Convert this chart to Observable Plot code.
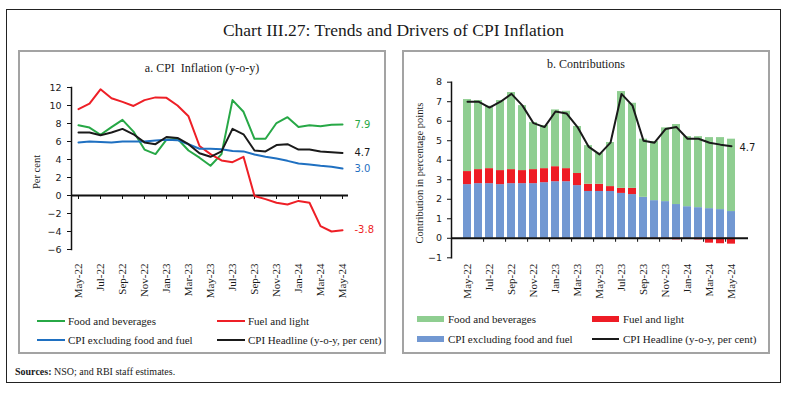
<!DOCTYPE html>
<html><head><meta charset="utf-8">
<script src="https://cdn.jsdelivr.net/npm/d3@7"></script>
<script src="https://cdn.jsdelivr.net/npm/@observablehq/plot@0.6"></script>
<style>
*{box-sizing:border-box;}
body{margin:0;background:#fff;width:793px;height:393px;position:relative;overflow:hidden;font-family:"Liberation Serif",serif;color:#1a1a1a;}
.abs{position:absolute;}
#frame{left:6px;top:9px;width:775px;height:374px;border:1.5px solid #222;}
.panel{top:50px;height:304px;border:2px solid #a3a3a3;}
#title{left:6px;width:775px;top:19px;text-align:center;font-size:17.5px;line-height:22px;}
.ptitle{font-size:12px;line-height:14px;text-align:center;white-space:nowrap;}
.ytitle{font-size:10.5px;line-height:12px;white-space:nowrap;transform:translate(-50%,-50%) rotate(-90deg);}
.leg{font-size:11px;line-height:14px;white-space:nowrap;}
.sw{height:2px;}
.patch{height:6px;}
#src{left:15px;top:365px;font-size:10px;line-height:14px;white-space:nowrap;}
</style></head><body>
<div id="root"></div>
<script>
// ---- data ----
const months = ["May-22","Jun-22","Jul-22","Aug-22","Sep-22","Oct-22","Nov-22","Dec-22","Jan-23","Feb-23","Mar-23","Apr-23","May-23","Jun-23","Jul-23","Aug-23","Sep-23","Oct-23","Nov-23","Dec-23","Jan-24","Feb-24","Mar-24","Apr-24","May-24"];
const tickMonths = ["May-22","Jul-22","Sep-22","Nov-22","Jan-23","Mar-23","May-23","Jul-23","Sep-23","Nov-23","Jan-24","Mar-24","May-24"];
const seriesNames = ["Food and beverages","Fuel and light","CPI excluding food and fuel","CPI Headline (y-o-y, per cent)"];
const foodInfl = [7.8,7.55,6.75,7.6,8.4,7.1,5.1,4.6,6.2,6.3,5.0,4.2,3.3,4.6,10.6,9.3,6.3,6.3,8.05,8.7,7.6,7.8,7.7,7.85,7.9];
const fuelInfl = [9.6,10.2,11.8,10.8,10.4,9.95,10.6,10.9,10.85,10.0,8.8,5.5,4.6,3.9,3.7,4.3,-0.05,-0.4,-0.8,-1.0,-0.6,-0.8,-3.4,-4.0,-3.85];
const coreInfl = [5.9,6.0,5.95,5.9,6.0,6.0,6.0,6.1,6.2,6.15,5.7,5.2,5.2,5.15,4.95,4.9,4.55,4.3,4.1,3.85,3.55,3.45,3.3,3.2,3.0];
const headline = [7.0,7.0,6.7,7.0,7.4,6.8,5.9,5.7,6.5,6.4,5.7,4.7,4.3,4.9,7.4,6.8,5.0,4.9,5.6,5.7,5.1,5.1,4.9,4.8,4.72];
const coreContrib = [2.75,2.8,2.8,2.75,2.8,2.8,2.8,2.85,2.9,2.9,2.7,2.4,2.4,2.4,2.3,2.24,2.1,1.93,1.88,1.73,1.62,1.57,1.52,1.47,1.37];
const fuelContrib = [0.67,0.72,0.77,0.72,0.72,0.67,0.72,0.72,0.77,0.67,0.62,0.37,0.37,0.25,0.26,0.32,-0.01,-0.02,-0.04,-0.08,-0.03,-0.08,-0.25,-0.28,-0.3];
const foodContrib = [3.69,3.54,3.2,3.59,3.95,3.33,2.41,2.21,2.91,2.94,2.41,1.98,1.59,2.26,4.96,4.36,2.98,3.03,3.78,4.1,3.59,3.64,3.64,3.69,3.71];
const yTicksA = [-6,-4,-2,0,2,4,6,8,10,12];
const yTicksB = [-1,0,1,2,3,4,5,6,7,8];
const lineColors = ["#27a846","#ee1f26","#1f70c1","#1a1a1a"];
const barColors = ["#8fce91","#ee1c25","#7298d2"];
const panelTitles = ["a. CPI\u00a0 Inflation (y-o-y)","b. Contributions"];
const yTitles = ["Per cent","Contribution in percentage points"];
const chartTitle = "Chart III.27: Trends and Drivers of CPI Inflation";

const serif = "Liberation Serif, serif";
const sans = "DejaVu Sans, sans-serif";
const root = document.getElementById("root");
function add(html){root.insertAdjacentHTML("beforeend", html);}

add(`<div id="frame" class="abs"></div>`);
add(`<div id="title" class="abs">${chartTitle}</div>`);
add(`<div class="abs panel" style="left:18px;width:368px"></div>`);
add(`<div class="abs panel" style="left:402px;width:368px"></div>`);
add(`<div class="abs ptitle" style="left:18px;width:368px;top:61px">${panelTitles[0]}</div>`);
add(`<div class="abs ptitle" style="left:402px;width:368px;top:57px">${panelTitles[1]}</div>`);
add(`<div class="abs ytitle" style="left:37px;top:172px">${yTitles[0]}</div>`);
add(`<div class="abs ytitle" style="left:420px;top:173px">${yTitles[1]}</div>`);

// ---- panel a: lines ----
const lineSeries = [foodInfl, fuelInfl, coreInfl, headline];
const lineData = [];
lineSeries.forEach((arr, s) => arr.forEach((v, i) => lineData.push({month: months[i], value: v, series: seriesNames[s]})));
const lastA = lineSeries.map((arr, s) => ({month: months[months.length-1], value: arr[arr.length-1], series: seriesNames[s], label: (Math.round(arr[arr.length-1]*10)/10).toFixed(1)}));

const plotA = Plot.plot({
  width: 364, height: 225,
  marginLeft: 51, marginRight: 36, marginTop: 9, marginBottom: 54,
  style: {background: "transparent", overflow: "visible"},
  x: {type: "point", domain: months, padding: 0},
  y: {domain: [-6, 12]},
  color: {domain: seriesNames, range: lineColors},
  marks: [
    Plot.ruleY([0], {stroke: "#111", strokeWidth: 2}),
    Plot.ruleX(tickMonths, {x: d => d, y1: 0, y2: 0, insetBottom: -4, stroke: "#111", strokeWidth: 1}),
    Plot.frame({anchor: "left", stroke: "#111", strokeWidth: 1.5}),
    Plot.axisY({ticks: yTicksA, tickSize: 4, tickPadding: 6, fontFamily: sans, fontSize: 9.5, label: null, stroke: "#111"}),
    Plot.axisX({ticks: tickMonths, tickSize: 0, tickPadding: 14, tickRotate: -90, fontFamily: serif, fontSize: 11, label: null}),
    Plot.line(lineData, {x: "month", y: "value", z: "series", stroke: "series", strokeWidth: 2}),
    Plot.text(lastA, {x: "month", y: "value", text: "label", fill: "series", dx: 12, textAnchor: "start", fontFamily: sans, fontSize: 10})
  ]
});
plotA.style.position = "absolute"; plotA.style.left = "20px"; plotA.style.top = "78px";
root.appendChild(plotA);

// ---- panel b: stacked bars ----
const barSeries = [coreContrib, fuelContrib, foodContrib];
const barNames = [seriesNames[2], seriesNames[1], seriesNames[0]];
const barData = [];
months.forEach((m, i) => barSeries.forEach((arr, s) => barData.push({month: m, value: arr[i], series: barNames[s]})));
const headData = months.map((m, i) => ({month: m, value: headline[i]}));
const lastB = [{month: months[months.length-1], value: headline[headline.length-1], label: (Math.round(headline[headline.length-1]*10)/10).toFixed(1)}];

const plotB = Plot.plot({
  width: 364, height: 229,
  marginLeft: 47, marginRight: 20, marginTop: 7.7, marginBottom: 45.7,
  style: {background: "transparent", overflow: "visible"},
  x: {type: "band", domain: months, paddingInner: 0.27, paddingOuter: 0.2},
  y: {domain: [-1, 8]},
  color: {domain: seriesNames.slice(0,3), range: barColors},
  marks: [
    Plot.barY(barData, {x: "month", y: "value", fill: "series"}),
    Plot.ruleY([0], {stroke: "#111", strokeWidth: 2}),
    Plot.ruleX(tickMonths.slice(1), {x: d => d, y1: 0, y2: 0, insetBottom: -4, dx: -5.9, stroke: "#111", strokeWidth: 1}),
    Plot.frame({anchor: "left", stroke: "#111", strokeWidth: 1.5}),
    Plot.axisY({ticks: yTicksB, tickSize: 4, tickPadding: 5.5, fontFamily: sans, fontSize: 9.5, label: null, stroke: "#111"}),
    Plot.axisX({ticks: tickMonths, tickSize: 0, tickPadding: 6, tickRotate: -90, fontFamily: serif, fontSize: 11, label: null}),
    Plot.line(headData, {x: "month", y: "value", stroke: lineColors[3], strokeWidth: 2}),
    Plot.text(lastB, {x: "month", y: "value", text: "label", fill: "#1a1a1a", dx: 8, dy: 2, textAnchor: "start", fontFamily: sans, fontSize: 10})
  ]
});
plotB.style.position = "absolute"; plotB.style.left = "404px"; plotB.style.top = "74px";
root.appendChild(plotB);

// ---- legends ----
const legA = [[37,321,0],[217,321,1],[37,340,2],[217,340,3]];
legA.forEach(([x,y,s]) => {
  add(`<div class="abs sw" style="left:${x}px;top:${y-1}px;width:28px;background:${lineColors[s]}"></div>`);
  add(`<div class="abs leg" style="left:${x+31}px;top:${y-7}px">${seriesNames[s]}</div>`);
});
const legB = [[417,319,0,"p"],[592,319,1,"p"],[417,339,2,"p"],[592,339,3,"l"]];
legB.forEach(([x,y,s,k]) => {
  if (k === "p") add(`<div class="abs patch" style="left:${x}px;top:${y-3}px;width:27px;background:${barColors[s]}"></div>`);
  else add(`<div class="abs sw" style="left:${x}px;top:${y-1}px;width:27px;background:${lineColors[3]}"></div>`);
  add(`<div class="abs leg" style="left:${x+31}px;top:${y-7}px">${seriesNames[s]}</div>`);
});
add(`<div id="src" class="abs"><b>Sources:</b> NSO; and RBI staff estimates.</div>`);
</script>
</body></html>
